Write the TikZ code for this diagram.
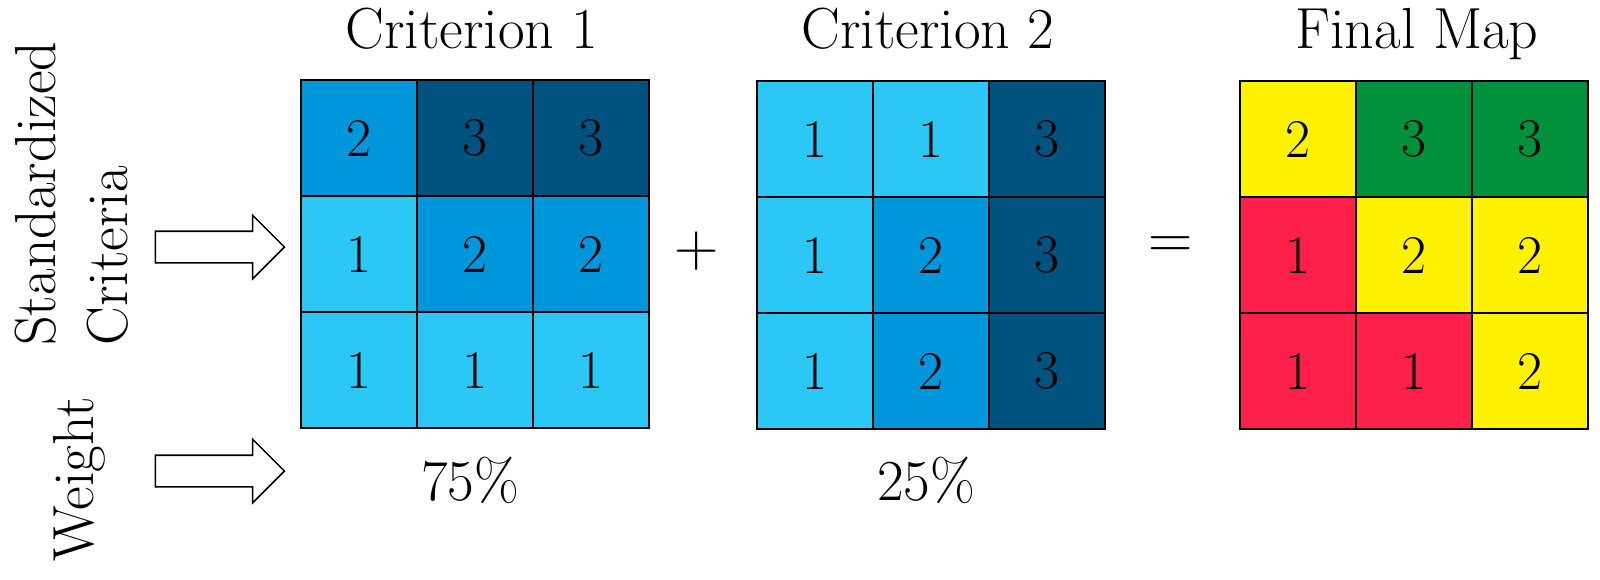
\documentclass[tikz,border=0pt]{standalone}
\usetikzlibrary{shapes.arrows}
\definecolor{lb}{HTML}{2BC8F5}
\definecolor{mb}{HTML}{0096DB}
\definecolor{db}{HTML}{00527F}
\definecolor{yl}{HTML}{FFF200}
\definecolor{gr}{HTML}{00913A}
\definecolor{rd}{HTML}{FF1F4B}
\begin{document}
\begin{tikzpicture}[x=0.02cm,y=-0.02cm,
  txt/.style={font=\fontsize{33}{40}\selectfont, inner sep=0pt},
  op/.style={font=\fontsize{35}{42}\selectfont, inner sep=0pt},
  cell/.style={draw=black, line width=0.9pt, minimum size=2.32cm, inner sep=0pt, font=\fontsize{31}{37}\selectfont, text=black},
  blockarrow/.style={single arrow, draw=black, line width=0.9pt, fill=white, minimum height=2.58cm, inner sep=0.3cm, single arrow head extend=0.32cm, single arrow tip angle=90}]
\useasboundingbox (0,0) rectangle (1600,579);
% grid 1
\foreach \c/\r/\f/\v in {1/1/mb/2,2/1/db/3,3/1/db/3,1/2/lb/1,2/2/mb/2,3/2/mb/2,1/3/lb/1,2/3/lb/1,3/3/lb/1}
  \node[cell, fill=\f] (a\r\c) at ({301+58+(\c-1)*116},{80+58+(\r-1)*116}) {\v};
% grid 2
\foreach \c/\r/\f/\v in {1/1/lb/1,2/1/lb/1,3/1/db/3,1/2/lb/1,2/2/mb/2,3/2/db/3,1/3/lb/1,2/3/mb/2,3/3/db/3}
  \node[cell, fill=\f] (b\r\c) at ({757+58+(\c-1)*116},{81+58+(\r-1)*116}) {\v};
% grid 3
\foreach \c/\r/\f/\v in {1/1/yl/2,2/1/gr/3,3/1/gr/3,1/2/rd/1,2/2/yl/2,3/2/yl/2,1/3/rd/1,2/3/rd/1,3/3/yl/2}
  \node[cell, fill=\f] (c\r\c) at ({1240+58+(\c-1)*116},{81+58+(\r-1)*116}) {\v};
% titles
\node[txt, anchor=base] (t1) at (472,48) {Criterion 1};
\node[txt, anchor=base] (t2) at (928,48) {Criterion 2};
\node[txt, anchor=base] (t3) at (1417,48) {Final Map};
% weights
\node[txt, anchor=base] (w1) at (470,500) {75\%};
\node[txt, anchor=base] (w2) at (926,500) {25\%};
% operators
\node[op] (plus) at (697,251) {+};
\node[op] (eq) at (1171,248) {=};
% side labels
\node[txt, rotate=90, anchor=base west] (l1) at (55,346) {Standardized};
\node[txt, rotate=90, anchor=base west] (l2) at (127,346) {Criteria};
\node[txt, rotate=90, anchor=base] (l3) at (93,479) {Weight};
% block arrows
\node[blockarrow] (ar1) at (212,247) {};
\node[blockarrow] (ar2) at (212,471) {};
\end{tikzpicture}
\end{document}
